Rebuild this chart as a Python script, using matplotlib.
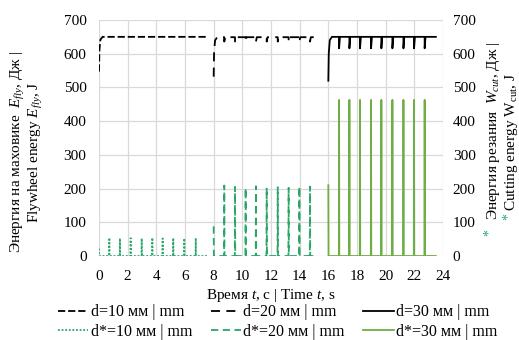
import numpy as np
import matplotlib
matplotlib.use("Agg")
import matplotlib.pyplot as plt

plt.rcParams['font.family'] = ['Liberation Serif', 'DejaVu Serif']
plt.rcParams['mathtext.fontset'] = 'custom'
plt.rcParams['mathtext.rm'] = 'Liberation Serif'
plt.rcParams['mathtext.it'] = 'Liberation Serif:italic'
plt.rcParams['font.size'] = 11

# cutting events: times (s) and cutting energy peaks (J)
t10_cuts = [0.72, 1.46, 2.21, 2.98, 3.72, 4.44, 5.18, 5.95, 6.75]
w10_peaks = [54, 52, 53, 52, 54, 52, 53, 52, 53]
t20_cuts = [8.74, 9.49, 10.23, 10.95, 11.70, 12.47, 13.23, 13.98, 14.72]
w20_peaks = [209, 205, 202, 207, 203, 204, 202, 206, 206]
t30_cuts = [16.75, 17.47, 18.21, 18.98, 19.70, 20.47, 21.24, 21.98, 22.72]
w30_peaks = [463, 463, 463, 463, 463, 463, 463, 463, 463]

# start / end of each run
t_start = [0.0, 8.0, 16.0]
t_end = [7.55, 15.15, 23.5]
w_start = [22, 88, 210]

# flywheel energy: spin-up at start, level, dip at each cut
fly_rise_dt = [0.0, 0.03, 0.1, 0.25]
fly10_rise = [547, 612, 642, 650]
fly20_rise = [532, 606, 640, 649]
fly30_rise = [520, 600, 640, 650]
fly_level = [650, 649, 650]
fly_dip = [650, 636, 616]

cut_times = [t10_cuts, t20_cuts, t30_cuts]
cut_peaks = [w10_peaks, w20_peaks, w30_peaks]
fly_rises = [fly10_rise, fly20_rise, fly30_rise]


def cutting_curve(i):
    t = [t_start[i], t_start[i] + 0.015]
    w = [w_start[i], 0]
    for tc, p in zip(cut_times[i], cut_peaks[i]):
        t += [tc - 0.015, tc, tc + 0.015]
        w += [0, p, 0]
    t.append(t_end[i])
    w.append(0)
    return t, w


def flywheel_curve(i):
    t = [t_start[i] + dt for dt in fly_rise_dt]
    e = list(fly_rises[i])
    for tc in cut_times[i]:
        t += [tc, tc, tc + 0.06]
        e += [fly_level[i], fly_dip[i], fly_level[i]]
    t.append(t_end[i])
    e.append(fly_level[i])
    return t, e


fig = plt.figure(figsize=(5.19, 3.40), dpi=100)
ax = fig.add_axes([99 / 519, 84 / 340, 344 / 519, 236 / 340])
ax2 = ax.twinx()

black_styles = [(0, (4, 1.6)), (0, (5, 3.5)), '-']
green_colors = ['#2aa66a', '#2aa66a', '#70ad47']
green_styles = [(0, (1, 1)), (0, (4, 2.5)), '-']
labels = ['10', '20', '30']

handles = []
for i in range(3):
    t, e = flywheel_curve(i)
    h1, = ax.plot(t, e, color='black', lw=1.3, ls=black_styles[i],
                  label=f'd={labels[i]} мм | mm')
    t, w = cutting_curve(i)
    h2, = ax2.plot(t, w, color=green_colors[i], lw=1.3, ls=green_styles[i],
                   label=f'd*={labels[i]} мм | mm')
    handles += [h1, h2]

for a in (ax, ax2):
    a.set_ylim(0, 700)
    a.set_yticks(range(0, 701, 100))
    for s in a.spines.values():
        s.set_visible(False)
ax.set_xlim(0, 24)
ax.set_xticks(range(0, 25, 2))
ax.grid(True, color='#d9d9d9', lw=0.9)
ax.set_axisbelow(True)
ax.tick_params(axis='x', length=0, pad=10)
ax.tick_params(axis='y', length=0, pad=9)
ax2.tick_params(axis='y', length=0, pad=7)

ax.set_xlabel('Время $t$, с | Time $t$, s', labelpad=3)

# left label
fig.text(27 / 519, 1 - 152 / 340,
         'Энергия на маховике  $E_{fly}$, Дж |\nFlywheel energy $E_{fly}$, J',
         rotation=90, ha='center', va='center', linespacing=1.0,
         multialignment='center')

# right label with green asterisks
fig.text(493 / 519, 1 - 220 / 340, 'Энергия резания  $W_{cut}$, Дж |',
         rotation=90, ha='center', va='bottom')
fig.text(511 / 519, 1 - 211 / 340, 'Cutting energy W$_{\\mathrm{cut}}$, J',
         rotation=90, ha='center', va='bottom')
fig.text(489 / 519, 1 - 232 / 340, '*', color='#2aa66a', rotation=90,
         ha='center', va='center', fontsize=10)
fig.text(508 / 519, 1 - 216 / 340, '*', color='#2aa66a', rotation=90,
         ha='center', va='center', fontsize=10)

fig.legend(handles=handles, loc='upper center', bbox_to_anchor=(0.535, 0.128),
           ncol=3, frameon=False, fontsize=11.5, handlelength=1.9,
           handletextpad=0.15, columnspacing=1.15, labelspacing=0.2,
           borderpad=0)

fig.savefig('out.png', dpi=100)
